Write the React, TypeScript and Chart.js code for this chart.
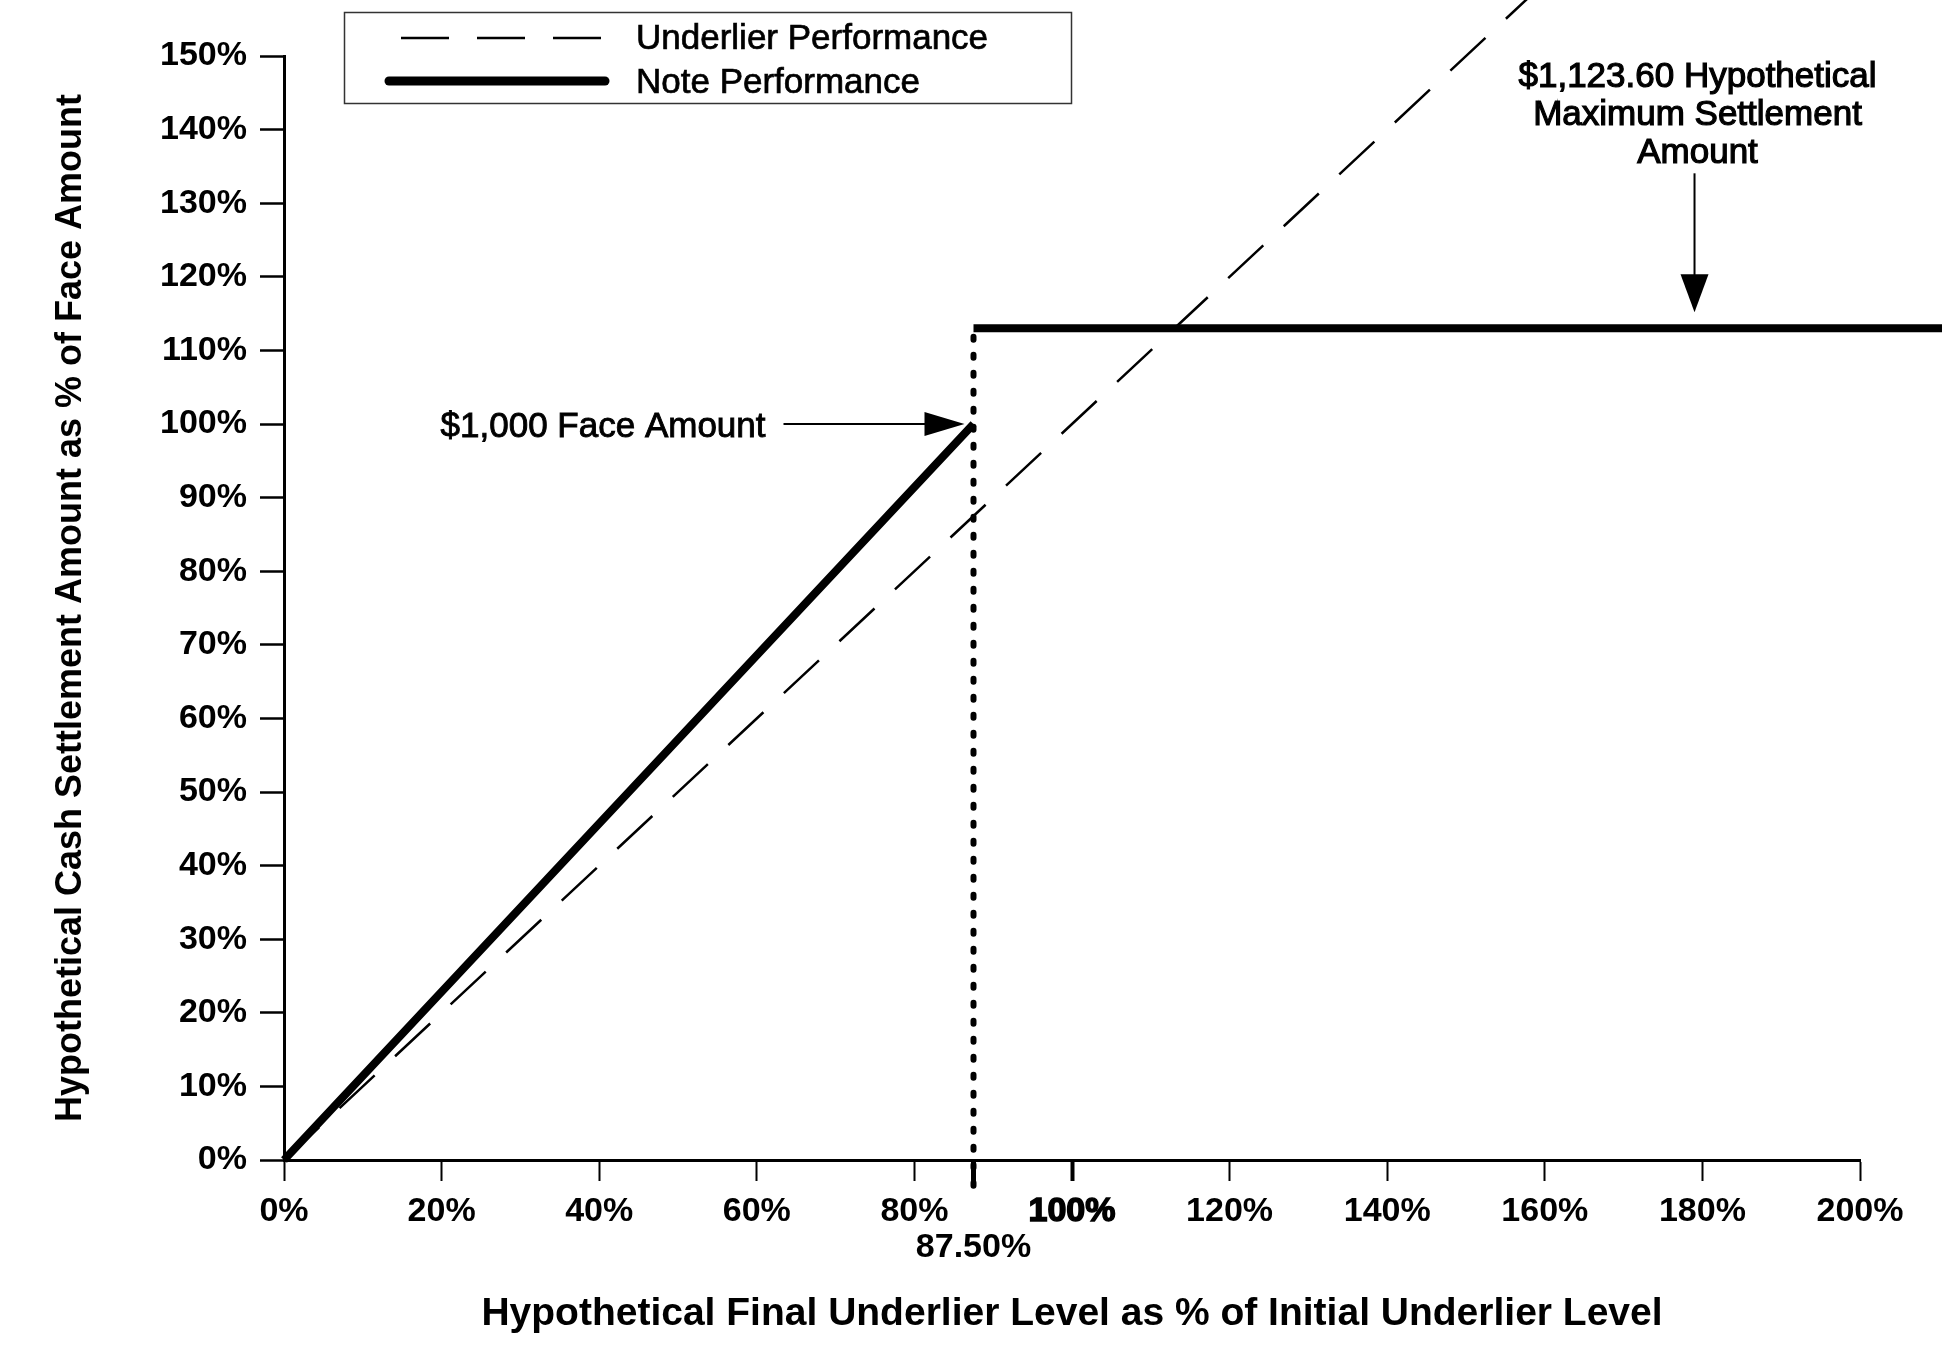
import React, { useEffect, useRef } from 'react';
import { Chart, registerables } from 'chart.js';

Chart.register(...registerables);

// ---- data ----
const X_MIN = 0;
const X_MAX = 200;
const X_STEP = 20;
const Y_MIN = 0;
const Y_MAX = 150;
const Y_STEP = 10;

const THRESHOLD = 87.5;
const THRESHOLD_LABEL = '87.50%';
const MAX_SETTLEMENT = 113;

const UNDERLIER_X = [0, 160];
const UNDERLIER_Y = [0, 160];

const NOTE_X = [0, 87.5, 87.5, 87.5, 212];
const NOTE_Y: (number | null)[] = [0, 100, null, 113, 113];

const DOTTED_X = [87.5, 87.5];
const DOTTED_Y = [-3.5, 113];

const SERIES_LABELS = ['Underlier Performance', 'Note Performance'];

const X_TITLE = 'Hypothetical Final Underlier Level as % of Initial Underlier Level';
const Y_TITLE = 'Hypothetical Cash Settlement Amount as % of Face Amount';

const FACE_X = 87.5;
const FACE_Y = 100;
const FACE_LABEL = '$1,000 Face Amount';
const MAX_ARROW_X = 179;
const MAX_LABEL = ['$1,123.60 Hypothetical', 'Maximum Settlement', 'Amount'];

const FONT = '"Liberation Sans", Arial, Helvetica, sans-serif';

const toPoints = (xs: number[], ys: (number | null)[]) => xs.map((x, i) => ({ x, y: ys[i] }));

const heavyText = (ctx: CanvasRenderingContext2D, t: string, x: number, y: number) => {
  ctx.fillText(t, x, y);
  ctx.strokeText(t, x, y);
};

const legendPlugin = {
  id: 'boxLegend',
  afterDraw(chart: any) {
    const { ctx } = chart;
    ctx.save();
    ctx.strokeStyle = '#333';
    ctx.lineWidth = 1.5;
    ctx.strokeRect(344.5, 12.5, 727, 91);
    // dashed sample
    ctx.strokeStyle = '#000';
    ctx.lineWidth = 2.5;
    ctx.setLineDash([48, 28]);
    ctx.beginPath();
    ctx.moveTo(401, 38);
    ctx.lineTo(601, 38);
    ctx.stroke();
    ctx.setLineDash([]);
    // solid sample
    ctx.lineWidth = 9;
    ctx.lineCap = 'round';
    ctx.beginPath();
    ctx.moveTo(389, 81);
    ctx.lineTo(605, 81);
    ctx.stroke();
    ctx.lineCap = 'butt';
    ctx.fillStyle = '#000';
    ctx.lineWidth = 0.7;
    ctx.font = `35px ${FONT}`;
    ctx.textAlign = 'left';
    ctx.textBaseline = 'middle';
    const ds = chart.data.datasets;
    heavyText(ctx, ds[0].label, 636, 39);
    heavyText(ctx, ds[1].label, 636, 83);
    ctx.restore();
  },
};

const annotationPlugin = {
  id: 'arrows',
  afterDatasetsDraw(chart: any) {
    const { ctx } = chart;
    const x = chart.scales.x;
    const y = chart.scales.y;
    ctx.save();
    ctx.fillStyle = '#000';
    ctx.strokeStyle = '#000';
    ctx.lineWidth = 2;

    // $1,000 face amount arrow
    const tipX = x.getPixelForValue(FACE_X) - 9;
    const tipY = y.getPixelForValue(FACE_Y);
    ctx.beginPath();
    ctx.moveTo(tipX - 181, tipY);
    ctx.lineTo(tipX - 36, tipY);
    ctx.stroke();
    ctx.beginPath();
    ctx.moveTo(tipX, tipY);
    ctx.lineTo(tipX - 40, tipY - 12);
    ctx.lineTo(tipX - 40, tipY + 12);
    ctx.closePath();
    ctx.fill();
    ctx.font = `35px ${FONT}`;
    ctx.textAlign = 'right';
    ctx.textBaseline = 'middle';
    ctx.lineWidth = 0.9;
    heavyText(ctx, FACE_LABEL, tipX - 199, tipY + 3);

    // maximum settlement arrow
    const ax = x.getPixelForValue(MAX_ARROW_X);
    const aTip = y.getPixelForValue(MAX_SETTLEMENT) - 16;
    const aTop = aTip - 139;
    ctx.lineWidth = 2;
    ctx.beginPath();
    ctx.moveTo(ax, aTop);
    ctx.lineTo(ax, aTip - 34);
    ctx.stroke();
    ctx.beginPath();
    ctx.moveTo(ax, aTip);
    ctx.lineTo(ax - 14, aTip - 38);
    ctx.lineTo(ax + 14, aTip - 38);
    ctx.closePath();
    ctx.fill();
    ctx.textAlign = 'center';
    ctx.lineWidth = 1.2;
    MAX_LABEL.forEach((t, i) => heavyText(ctx, t, ax + 3, aTop - 96 + i * 38));
    ctx.restore();
  },
};

export default function App() {
  const canvasRef = useRef<HTMLCanvasElement | null>(null);

  useEffect(() => {
    if (!canvasRef.current) return;
    const chart = new Chart(canvasRef.current, {
      type: 'line',
      data: {
        datasets: [
          {
            label: SERIES_LABELS[0],
            data: toPoints(UNDERLIER_X, UNDERLIER_Y),
            borderColor: '#000',
            borderWidth: 2.5,
            borderDash: [48, 28],
            pointRadius: 0,
            fill: false,
            clip: false as any,
            tension: 0,
          },
          {
            label: SERIES_LABELS[1],
            data: toPoints(NOTE_X, NOTE_Y),
            borderColor: '#000',
            borderWidth: 8,
            borderJoinStyle: 'round',
            pointRadius: 0,
            fill: false,
            spanGaps: false,
            clip: false as any,
            tension: 0,
          },
          {
            label: 'threshold',
            data: toPoints(DOTTED_X, DOTTED_Y),
            borderColor: '#000',
            borderWidth: 6,
            borderDash: [3, 15],
            borderCapStyle: 'round',
            pointRadius: 0,
            fill: false,
            clip: false as any,
            tension: 0,
          },
        ],
      },
      options: {
        responsive: false,
        animation: false,
        devicePixelRatio: 1,
        layout: { padding: { top: 56, right: 82, left: 0, bottom: 0 } },
        plugins: {
          legend: { display: false },
          tooltip: { enabled: false },
        },
        scales: {
          x: {
            type: 'linear',
            position: 'bottom',
            min: X_MIN,
            max: X_MAX,
            afterBuildTicks: (axis: any) => {
              const vals: number[] = [];
              for (let v = X_MIN; v <= X_MAX; v += X_STEP) vals.push(v);
              vals.push(THRESHOLD);
              vals.sort((a, b) => a - b);
              axis.ticks = vals.map((v) => ({ value: v }));
            },
            afterFit: (axis: any) => {
              axis.height = 188;
            },
            ticks: {
              autoSkip: false,
              maxRotation: 0,
              minRotation: 0,
              padding: 13,
              color: '#000',
              font: { family: FONT, size: 34, weight: 'bold', lineHeight: 1.05 },
              textStrokeColor: '#000',
              textStrokeWidth: (ctx: any) => (ctx.tick && ctx.tick.value === 100 ? 1.5 : 0),
              callback: (v: any) => (v === THRESHOLD ? ['', THRESHOLD_LABEL] : `${v}%`),
            } as any,
            grid: {
              drawOnChartArea: false,
              drawTicks: true,
              tickLength: 21,
              tickColor: '#000',
              tickWidth: (ctx: any) =>
                ctx.tick && ctx.tick.value === THRESHOLD ? 5 : ctx.tick && ctx.tick.value === 100 ? 4 : 2,
            } as any,
            border: { display: true, color: '#000', width: 3 },
            title: {
              display: true,
              text: X_TITLE,
              color: '#000',
              font: { family: FONT, size: 39, weight: 'bold' },
              padding: { top: 0, bottom: 10 },
            },
          },
          y: {
            type: 'linear',
            position: 'left',
            min: Y_MIN,
            max: Y_MAX,
            afterFit: (axis: any) => {
              axis.width = 284;
            },
            ticks: {
              stepSize: Y_STEP,
              autoSkip: false,
              padding: 13,
              color: '#000',
              font: { family: FONT, size: 34, weight: 'bold' },
              callback: (v: any) => `${v}%`,
            },
            grid: {
              drawOnChartArea: false,
              drawTicks: true,
              tickLength: 24,
              tickColor: '#000',
              tickWidth: 2.5,
            },
            border: { display: true, color: '#000', width: 3 },
            title: {
              display: true,
              text: Y_TITLE,
              color: '#000',
              font: { family: FONT, size: 36, weight: 'bold' },
              padding: { top: 49, bottom: 0 },
            },
          },
        },
      } as any,
      plugins: [annotationPlugin, legendPlugin],
    });
    return () => chart.destroy();
  }, []);

  return (
    <div style={{ position: 'absolute', left: 0, top: 0, width: 1942, height: 1348, background: '#fff' }}>
      <canvas ref={canvasRef} width={1942} height={1348} style={{ display: 'block' }} />
    </div>
  );
}
